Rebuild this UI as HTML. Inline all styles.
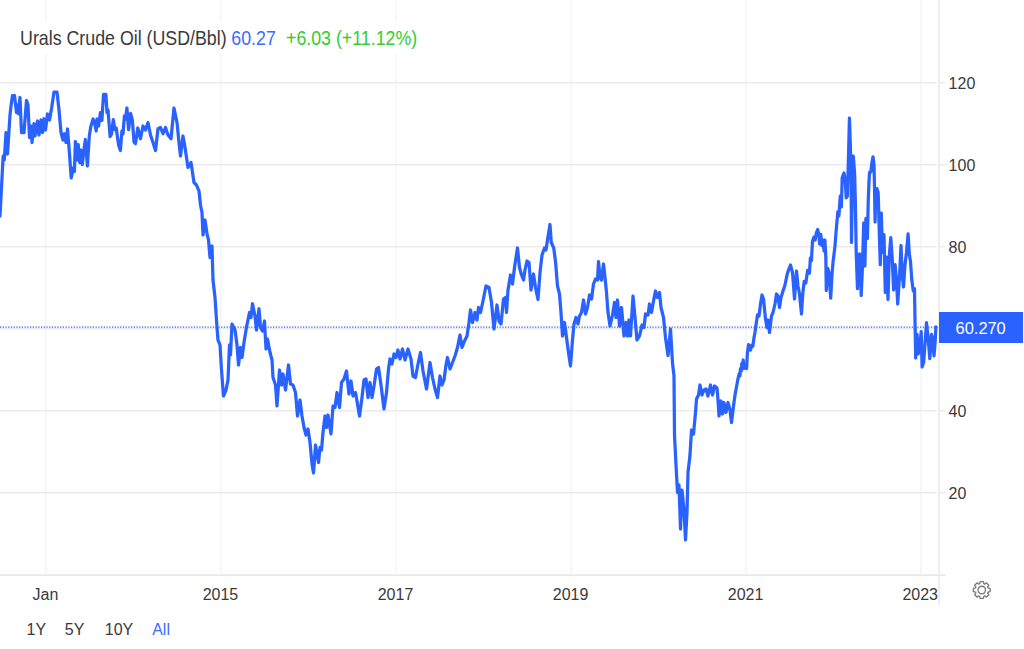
<!DOCTYPE html>
<html><head><meta charset="utf-8"><title>Urals Crude Oil</title>
<style>
html,body{margin:0;padding:0;background:#fff;}
body{width:1024px;height:649px;position:relative;overflow:hidden;font-family:"Liberation Sans",sans-serif;color:#3a3a3a;}
svg{position:absolute;left:0;top:0;}
.hd{position:absolute;top:27.9px;font-size:17.8px;line-height:20px;white-space:nowrap;transform:scaleY(1.1);transform-origin:0 3px;}
.lg{position:absolute;left:0;top:20.9px;width:426px;height:32.8px;background:#fff;}
.yl{position:absolute;left:948.6px;font-size:16px;line-height:19px;transform:scaleY(1.035);transform-origin:0 3px;}
.xl{position:absolute;top:584.6px;width:60px;text-align:center;font-size:16px;line-height:19px;}
.bt{position:absolute;top:619.7px;font-size:16px;line-height:19px;}
.tag{position:absolute;left:939.3px;top:312.4px;width:83.9px;height:30.9px;background:#2962ff;color:#fff;font-size:16.4px;line-height:30.6px;}
.tag span{position:absolute;left:16.3px;top:0.4px;}
.clip{position:absolute;left:890px;top:584.6px;width:48.2px;height:22px;overflow:hidden;}
.clip div{position:absolute;left:12.4px;top:0;font-size:16px;line-height:19px;white-space:nowrap;}
</style></head><body>
<svg width="1024" height="649" viewBox="0 0 1024 649">
<g stroke="#f0f4f8" stroke-width="1.3"><line x1="45.80" y1="0" x2="45.80" y2="574"/><line x1="220.85" y1="0" x2="220.85" y2="574"/><line x1="395.90" y1="0" x2="395.90" y2="574"/><line x1="570.95" y1="0" x2="570.95" y2="574"/><line x1="746.00" y1="0" x2="746.00" y2="574"/><line x1="921.05" y1="0" x2="921.05" y2="574"/></g>
<g stroke="#ebebeb" stroke-width="1.4"><line x1="0" y1="82.70" x2="936.8" y2="82.70"/><line x1="940" y1="82.70" x2="945.3" y2="82.70"/><line x1="0" y1="164.70" x2="936.8" y2="164.70"/><line x1="940" y1="164.70" x2="945.3" y2="164.70"/><line x1="0" y1="246.70" x2="936.8" y2="246.70"/><line x1="940" y1="246.70" x2="945.3" y2="246.70"/><line x1="0" y1="328.70" x2="936.8" y2="328.70"/><line x1="940" y1="328.70" x2="945.3" y2="328.70"/><line x1="0" y1="410.70" x2="936.8" y2="410.70"/><line x1="940" y1="410.70" x2="945.3" y2="410.70"/><line x1="0" y1="492.70" x2="936.8" y2="492.70"/><line x1="940" y1="492.70" x2="945.3" y2="492.70"/></g>
<line x1="0" y1="575.1" x2="945.3" y2="575.1" stroke="#e9e9e9" stroke-width="1.7"/>
<line x1="939.05" y1="0" x2="939.05" y2="605" stroke="#ebebeb" stroke-width="1.7"/>
<line x1="0" y1="327.2" x2="939" y2="327.2" stroke="#2962ff" stroke-width="1.2" stroke-dasharray="1.25 1.48"/>
<polyline fill="none" stroke="#2962ff" stroke-width="3.25" stroke-linejoin="round" stroke-linecap="round" points="0,216 1.8,182 2.5,168 3.2,156 4.3,160 6,132.5 7.5,154 10,115 11,106 12.5,95.5 14.5,95.5 16.5,112.5 17.5,105 18.5,113.75 20,97.5 21.5,132.5 24,132.5 26.5,100.5 28,105 29.5,137.5 31,126 32,142.5 34,123.75 35,136 37.5,121 39,135 41,120 42.5,132.5 44,118.75 45.5,130 47.5,114 49.5,120 51.5,108.75 54,92 57,92 59,110 61,132.5 63,140 64.5,133.75 66,142.5 67.5,129 69.5,153.75 71.2,178 73.3,168 74.4,171.5 75.4,141.5 77,160 78.2,144.5 79.7,162.5 80.8,150 82.3,164.5 83.9,150 85.4,139.5 87.4,166 89.3,136 90.8,126.6 93.1,119 94.7,123.5 96.2,131 97,119 98.6,126 100.4,112.7 101.9,120.4 103.5,94.3 105.9,94.3 107,112.7 108,110 110.1,136.6 111.5,134 113.3,119.7 114.9,129.7 116.2,128 118.6,145 120.4,150.5 121.9,131 123,134 124.4,116 125.6,119 126.9,108 128.6,129.7 130.6,113.5 132.4,120.4 134,142 135.5,143.5 137.8,128 140.5,138.75 143,126 145.5,130 148,122.5 150.5,135 153,142.5 155.5,150.5 158,128.75 160.5,127.5 163,133.75 165.5,127.5 168,135 171,138.75 174,108 177,122.5 179,142.5 180.5,156 183,136 185,147.5 188,167.5 191,162.5 194,182.5 196.5,185 199,191 200.5,205 202,212.5 203,235 205,220 207,234 208.5,240 210,257.5 212,246 213,280 215,297.5 217,327.5 218,340 220,345 221.5,370 223.5,396 226,390 228,380 229.5,345 230.5,355 232,324 235,330 237,345 238.5,365 240.5,347.5 242,357.5 244,342.5 246.5,327 249.5,312.5 251,317.5 252.5,303.75 255,316 256.5,330 259,308.75 260.5,327.5 262.5,331 264.5,321 266,349 267.5,339 270,352.5 272,360 273,377.5 275.5,385 277,406 279.5,370 281.5,385 283,374 285.5,390 288.5,365 290.5,384 293,385 295.5,392.5 297.5,416 300,400 302,416 304,427.5 306,435 308,429 310,442.5 312,464 313.5,473 315.5,445 318.5,462.5 320,447.5 321.5,450 323,432.5 325,416 326.5,427.5 328,415 331,434 333,406 335,407.5 337,392.5 339.5,407.5 341.5,382.5 344,379 346.5,371 349,394 351,381 353,396 355.5,392.5 357.5,404 359.5,416 362,397.5 364,380 366,379 368,397.5 370,382.5 372,397.5 374,386 376.5,369 378.5,367.5 381,385 384,409 386.5,392.5 388.5,369 390,359 392,364 394,354 396,357.5 398,350 400,359 402.5,349 405,360 408,349 411,359 413,376 415.5,377.5 418,364 420.5,352.5 423,371 426.5,389 430,362.5 432.5,377.5 435,389 437.5,397.5 440,376 442,385 444,380 446,365 447.5,357.5 450,369 452.5,362.5 455,356 457.5,347.5 460,335 462,347.5 464.5,341 467,336 469,322.5 470.5,310 472.5,322.5 475,312.5 477,320 478.5,307.5 480.5,312.5 483,301 486,286 489,287.5 491.5,302.5 494,329 497,305 499,321 501,324 503.5,299 505.5,297.5 506.5,312.5 508,290 510.5,275 512.5,284 514.5,267.5 517.5,248 519.5,267.5 521.5,275 523.5,280 525,270 527,261 529,262.5 531,290 533.5,274 535.5,287.5 538,299.5 540,272.5 542,255 544.5,248 546,250 547.5,240 550,224.5 551.25,242.5 553.75,248 555.6,262.5 557.5,286 559.5,294 561,312.5 562.5,336 564.5,322.5 566.5,337.5 568.5,352.5 570.5,366 572.5,340 574,324 576,317.5 578,324 579.5,316 581.5,312.5 583.5,300 585.5,314 587.5,307.5 589.5,295 591.5,299 593.5,284 595.5,279 597.5,280 598.5,261.5 600,277.5 601.5,280 603.5,264 605,277.5 606.5,292.5 608,312.5 610,326 612.5,315 614.5,302.5 616,317.5 617.5,300 619.5,326 621.5,307.5 624,336 626,322.5 627.5,336 629,320 630.5,336 633,296 635,317.5 637,340 639.5,336 642,325 644,327.5 645.5,314 648,315 649.5,304 651.5,312.5 653.5,301 655.5,291 657.5,297.5 659.5,292.5 661,307.5 663.5,317.5 665.5,337.5 668,355.5 670.5,329 672.5,363 674,376 674.5,435 676,465 677.5,492.5 679,485 680.5,529 682,490 684,510 685.5,540 687,512.5 688,472.5 690,455 691.5,430 693.5,434 695.5,412.5 696.5,399 698.5,395 700,385 702,395 704,390 706,389 708,396 710.5,385 712.5,395 714.5,386 717,388 718,400 719,416 721,401 722.5,414 724,402.5 726,412.5 728,402.5 730,410 731.5,422.5 733.5,406 735,395 737.8,379.7 739.2,374 739.8,376 740.5,368.6 741.2,371 741.8,363.5 742.6,366.5 743.2,360 744,368.5 745,365 746.6,368.5 747.4,353 748.6,344.6 749.6,349.5 750.5,350 751.6,345.5 752.8,346.2 754,337.7 755,332 757.5,315 759,316 760.5,304 762,295 763.5,299 765.5,319 767,327.5 768,320 769.5,332.5 771.5,316 773,312.5 775,304 776.5,294 778,296 779.5,307.5 781,297.5 783,291 785,285 787,275 788.5,270 790.5,265 792.5,272.5 794.5,299 796.5,271 798,286 799.5,294 801.5,314 802.8,293 804.2,281.5 805.8,283 807.6,270.4 809.4,273.2 810.4,258 811.4,260.7 812.5,241.3 813.9,237.2 815.2,240 816.3,233 817.7,229.5 818.8,234.4 819.7,244 820.8,234.4 821.9,245.5 823,240 824.1,251 824.9,240 825.8,256.6 826.3,290.5 827.7,268.3 829.1,273.2 830.7,298.1 832.1,273.2 833.2,260.7 834.9,246.9 836.3,228.9 837.9,211.6 838.9,216 840.3,196 841.4,207 842.2,177.7 844,173 845.3,180.8 846.2,197.8 847.4,196 848.5,156 849.45,118 850.4,147 851.1,175 851.5,242.4 852.2,200 853.3,156 854.6,173 855.4,204 856.2,252.4 857.5,288.6 858.8,254 860,254 861.2,295.5 862.5,266 863.7,223 864.9,266 865.9,218.5 867.4,238.5 868.3,199 869,181 869.6,172 870.8,172 871.8,163.6 873,156.8 874,165 874.5,187 875.1,222 875.7,189.5 877,188.8 878.2,193 878.8,214 879.5,240 880.3,264.7 881.3,213 882.5,252.4 884,234.7 885.3,292.4 886.5,257 888,299.4 889.3,255.5 890.8,237.7 892.4,261.6 893.6,290 895.1,264.7 896.4,278.6 897.7,304 899.5,277 901,245.5 902.2,274 903.5,287 905,264.7 906.5,252.4 908.1,233.9 909.3,254 910.5,261.6 911.8,280 913.3,291 914.5,288.6 914.9,315 915.7,358 917.1,334.4 918.2,353.8 919.6,348 921.2,331.6 922.1,367 923.7,362 925.1,342.7 926.5,322.6 928.2,338.5 929.8,358.7 931.5,334.4 932.6,338.5 934,355.9 935.1,342.7 935.9,326.8"/>
<g transform="translate(981.75 590)" fill="none" stroke="#7c7c7c" stroke-width="1.35" stroke-linejoin="round">
<circle r="3.75"/>
<path d="M-2.04 -6.28 L-1.63 -8.39 L1.63 -8.39 L2.04 -6.28 L3.00 -5.88 L4.78 -7.09 L7.09 -4.78 L5.88 -3.00 L6.28 -2.04 L8.39 -1.63 L8.39 1.63 L6.28 2.04 L5.88 3.00 L7.09 4.78 L4.78 7.09 L3.00 5.88 L2.04 6.28 L1.63 8.39 L-1.63 8.39 L-2.04 6.28 L-3.00 5.88 L-4.78 7.09 L-7.09 4.78 L-5.88 3.00 L-6.28 2.04 L-8.39 1.63 L-8.39 -1.63 L-6.28 -2.04 L-5.88 -3.00 L-7.09 -4.78 L-4.78 -7.09 L-3.00 -5.88Z"/>
</g>
</svg>
<div class="lg"></div>
<div class="hd" style="left:20.1px">Urals Crude Oil (USD/Bbl)</div>
<div class="hd" style="left:231.3px;color:#3d6cff">60.27</div>
<div class="hd" style="left:286px;color:#32cd32">+6.03 (+11.12%)</div>
<div class="yl" style="top:73.70px">120</div><div class="yl" style="top:155.70px">100</div><div class="yl" style="top:237.70px">80</div><div class="yl" style="top:401.70px">40</div><div class="yl" style="top:483.70px">20</div>
<div class="xl" style="left:15.40px">Jan</div><div class="xl" style="left:190.45px">2015</div><div class="xl" style="left:365.50px">2017</div><div class="xl" style="left:540.55px">2019</div><div class="xl" style="left:715.60px">2021</div>
<div class="clip"><div>2023</div></div>
<div class="tag"><span>60.270</span></div>
<div class="bt" style="left:26.5px">1Y</div>
<div class="bt" style="left:64.8px">5Y</div>
<div class="bt" style="left:104.8px">10Y</div>
<div class="bt" style="left:152.2px;color:#3d6cff">All</div>
</body></html>
